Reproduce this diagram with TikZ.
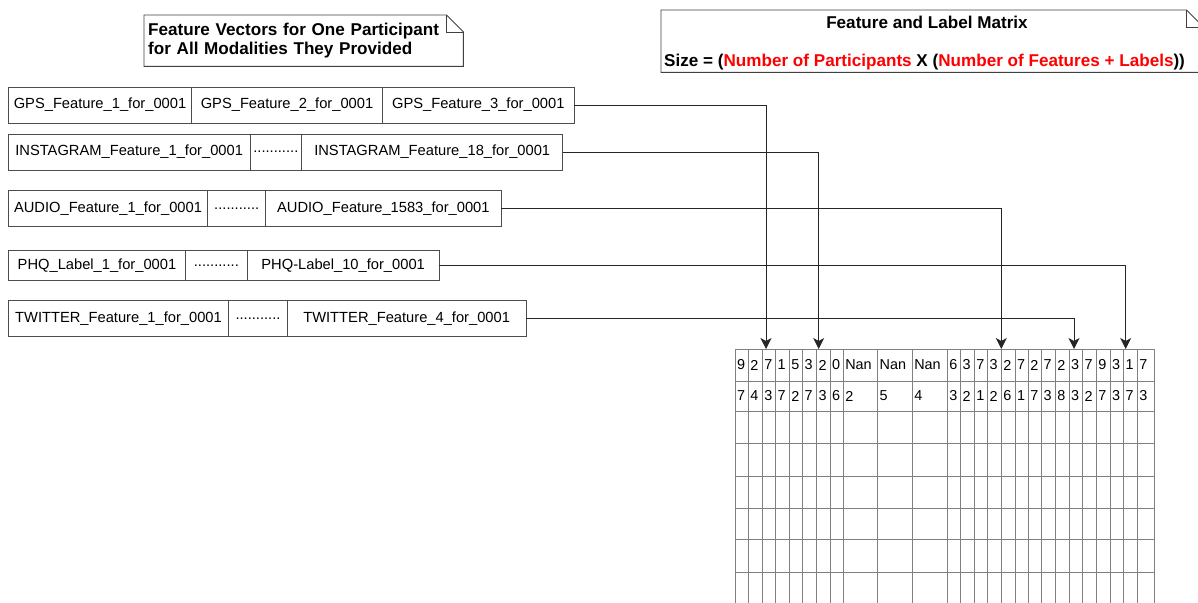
\documentclass[tikz,border=0pt]{standalone}
\usepackage{fontspec}
\setmainfont{Liberation Sans}
\usetikzlibrary{arrows.meta,positioning}
\tikzset{c/.style={draw=black!70, line width=0.9pt, inner sep=0, outer sep=0, minimum height=36pt, font=\fontsize{14.7}{17}\selectfont},
  m/.style={draw=black!50, line width=0.8pt, inner xsep=2pt, inner ysep=0, outer sep=0, align=left, anchor=north west, font=\fontsize{14.4}{17}\selectfont},
  a/.style={draw=black!85, line width=0.9pt, -{Stealth[length=11pt,width=11pt,inset=3pt]}},
  nt/.style={font=\bfseries\fontsize{17.1}{19}\selectfont},
  nl/.style={draw=black!75, line width=0.9pt}}

\begin{document}
\begin{tikzpicture}[x=1pt,y=-1pt]
    \useasboundingbox (0,0) rectangle (1198,602);
    \clip (0,0) rectangle (1198,602);

    % feature vectors of one participant
    \node[c, minimum width=183.4, anchor=west] (gps1) at (8.3,105) {GPS\_Feature\_1\_for\_0001};
    \node[c, minimum width=190.6, right=0pt of gps1] (gps2) {GPS\_Feature\_2\_for\_0001};
    \node[c, minimum width=192, right=0pt of gps2] (gps3) {GPS\_Feature\_3\_for\_0001};

    \node[c, minimum width=241.7, anchor=west] (ins1) at (8.3,152) {INSTAGRAM\_Feature\_1\_for\_0001};
    \node[c, minimum width=51.7, right=0pt of ins1] (ins2) {...........};
    \node[c, minimum width=261, right=0pt of ins2] (ins3) {INSTAGRAM\_Feature\_18\_for\_0001};

    \node[c, minimum width=199.4, anchor=west] (aud1) at (8.3,208.5) {AUDIO\_Feature\_1\_for\_0001};
    \node[c, minimum width=58, right=0pt of aud1] (aud2) {...........};
    \node[c, minimum width=235.3, right=0pt of aud2] (aud3) {AUDIO\_Feature\_1583\_for\_0001};

    \node[c, minimum width=177.4, minimum height=30, anchor=west] (phq1) at (8.3,265.5) {PHQ\_Label\_1\_for\_0001};
    \node[c, minimum width=61.3, minimum height=30, right=0pt of phq1] (phq2) {...........};
    \node[c, minimum width=192.3, minimum height=30, right=0pt of phq2] (phq3) {PHQ-Label\_10\_for\_0001};

    \node[c, minimum width=220.4, anchor=west] (twt1) at (8.3,318.7) {TWITTER\_Feature\_1\_for\_0001};
    \node[c, minimum width=58.6, right=0pt of twt1] (twt2) {...........};
    \node[c, minimum width=238.7, right=0pt of twt2] (twt3) {TWITTER\_Feature\_4\_for\_0001};

    % the matrix
    \def\colx{{735,748.3,762.3,775.7,789.3,802.7,816.7,830,843.3,877.7,912.3,947.3,960.7,974.3,987.7,1001.3,1015,1028.3,1041.7,1055.3,1069,1082.7,1096.3,1110,1123.7,1137.3,1154}}
    \def\rowy{{349,381,411,443,476,508,539,572,604}}
    \def\rowA{{"9","2","7","1","5","3","2","0","Nan","Nan","Nan","6","3","7","3","2","7","2","7","2","3","7","9","3","1","7"}}
    \def\rowB{{"7","4","3","7","2","7","3","6","2","5","4","3","2","1","2","6","1","7","3","8","3","2","7","3","7","3"}}
    \foreach \r in {0,1,...,7}
    {
      \foreach \i in {0,1,...,25}
      {
        \pgfmathparse{\colx[\i]}
        \edef\xa{\pgfmathresult}%
        \pgfmathparse{\colx[\i+1]-\colx[\i]-4}
        \edef\tw{\pgfmathresult}%
        \pgfmathparse{\rowy[\r]}
        \edef\ya{\pgfmathresult}%
        \pgfmathparse{\rowy[\r+1]-\rowy[\r]}
        \edef\h{\pgfmathresult}%
        \ifcase\r
          \pgfmathparse{\rowA[\i]}\edef\v{\pgfmathresult}%
        \or
          \pgfmathparse{\rowB[\i]}\edef\v{\pgfmathresult}%
        \else
          \def\v{}%
        \fi
        \node[m, text width=\tw pt, minimum height=\h] (m\r-\i) at (\xa,\ya) {\v};
      }
    }

    \coordinate (inGps) at (766,349);
    \coordinate (inIns) at (818.7,349);
    \coordinate (inAud) at (1001.3,349);
    \coordinate (inTwt) at (1074,349);
    \coordinate (inPhq) at (1125.7,349);
    \draw[a] (gps3.east) -| (inGps);
    \draw[a] (ins3.east) -| (inIns);
    \draw[a] (aud3.east) -| (inAud);
    \draw[a] (phq3.east) -| (inPhq);
    \draw[a] (twt3.east) -| (inTwt);

    % notes
    \node[nt, anchor=north west, minimum height=51, inner xsep=4pt, inner ysep=0, text width=311pt, align=left] (fvnote) at (144,15) {Feature Vectors for One Participant\\for All Modalities They Provided};
    \draw[nl] (fvnote.south west) -- (fvnote.north west) -- ([xshift=-17pt]fvnote.north east) -- ([yshift=-17pt]fvnote.north east) -- (fvnote.south east) -- cycle;
    \draw[nl] ([xshift=-17pt]fvnote.north east) -- ++(0,17) -- ([yshift=-17pt]fvnote.north east);

    \node[anchor=north west, minimum width=542, minimum height=62, inner sep=0] (fmnote) at (661,10) {};
    \draw[nl] (fmnote.south west) -- (fmnote.north west) -- ([xshift=-17pt]fmnote.north east) -- ([yshift=-17pt]fmnote.north east) -- (fmnote.south east) -- cycle;
    \draw[nl] ([xshift=-17pt]fmnote.north east) -- ++(0,17) -- ([yshift=-17pt]fmnote.north east);
    \node[nt] (fmtitle) at (927,22) {Feature and Label Matrix};
    \node[nt, anchor=west, inner sep=0] (fmsize) at (664,62) {Size = (\textcolor{red}{Number of Participants} X (\textcolor{red}{Number of Features + Labels}))};
\end{tikzpicture}
\end{document}
